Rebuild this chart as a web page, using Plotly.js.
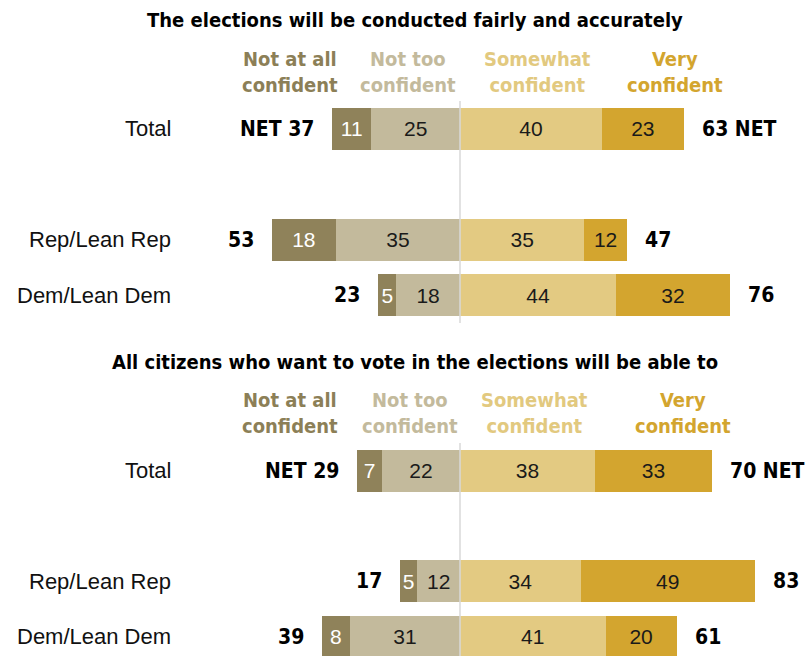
<!DOCTYPE html>
<html>
<head>
<meta charset="utf-8">
<script src="https://cdn.plot.ly/plotly-3.0.1.min.js"></script>
<style>html,body{margin:0;padding:0;background:#fff;}#chart{width:811px;height:656px;}</style>
</head>
<body>
<div id="chart"></div>
<script>
// ---- DATA ----
const rows = ['Total', 'Rep/Lean Rep', 'Dem/Lean Dem'];
const categories = ['Not at all<br>confident', 'Not too<br>confident', 'Somewhat<br>confident', 'Very<br>confident'];
const panelTitles = ['The elections will be conducted fairly and accurately',
                     'All citizens who want to vote in the elections will be able to'];

// Panel 1: conducted fairly and accurately
const fairNotAtAll = [11, 18, 5];
const fairNotToo   = [25, 35, 18];
const fairSomewhat = [40, 35, 44];
const fairVery     = [23, 12, 32];
const fairNetNeg   = [37, 53, 23];
const fairNetPos   = [63, 47, 76];

// Panel 2: all citizens able to vote
const voteNotAtAll = [7, 5, 8];
const voteNotToo   = [22, 12, 31];
const voteSomewhat = [38, 34, 41];
const voteVery     = [33, 49, 20];
const voteNetNeg   = [29, 17, 39];
const voteNetPos   = [70, 83, 61];

// ---- LAYOUT CONSTANTS ----
const W = 811, H = 656;
const CENTER = 460, PXU = 3.55;
const rowY = [0, 2, 3];
const colors = ['#8F825A', '#C3BA9C', '#E3CA82', '#D3A52F'];
const headerColors = ['#8C7F57', '#C3BA9C', '#E2C97F', '#D3A52F'];
const REG = 'Liberation Sans, Arial, sans-serif';
const NARROW = 'Liberation Sans Narrow, Arial Narrow, DejaVu Sans Condensed, sans-serif';
const px = x => x / W;
const py = y => 1 - y / H;

function panelTraces(xa, ya, notAtAll, notToo, somewhat, very) {
  const mk = (vals, sign, i, txtColor) => ({
    type: 'bar', orientation: 'h', xaxis: xa, yaxis: ya,
    x: vals.map(v => sign * v), y: rowY,
    text: vals.map(String), textposition: 'inside', insidetextanchor: 'middle',
    constraintext: 'none', textangle: 0,
    textfont: {family: REG, size: 21, color: txtColor},
    marker: {color: colors[i], line: {width: 0}},
    width: 0.76, hoverinfo: 'skip', showlegend: false
  });
  return [
    mk(notToo, -1, 1, '#1a1a1a'),
    mk(notAtAll, -1, 0, '#ffffff'),
    mk(somewhat, 1, 2, '#1a1a1a'),
    mk(very, 1, 3, '#1a1a1a')
  ];
}

const data = [].concat(
  panelTraces('x', 'y', fairNotAtAll, fairNotToo, fairSomewhat, fairVery),
  panelTraces('x2', 'y2', voteNotAtAll, voteNotToo, voteSomewhat, voteVery)
);

const annotations = [];
function panelAnn(xa, ya, titleY, headY, headX, notAtAll, notToo, somewhat, very, netNeg, netPos, titleIdx) {
  annotations.push({xref: 'paper', yref: 'paper', x: px(415), y: py(titleY), text: '<b>' + panelTitles[titleIdx] + '</b>',
    showarrow: false, xanchor: 'center', yanchor: 'middle', font: {family: NARROW, size: 20, color: '#000'}});
  categories.forEach((c, i) => {
    annotations.push({xref: 'paper', yref: 'paper', x: px(headX[i]), y: py(headY), text: '<b>' + c + '</b>',
      showarrow: false, xanchor: 'center', yanchor: 'middle', align: 'center',
      font: {family: NARROW, size: 20, color: headerColors[i]}});
  });
  rows.forEach((r, i) => {
    annotations.push({xref: 'paper', yref: ya, x: px(173), y: rowY[i], text: r, showarrow: false,
      xanchor: 'right', yanchor: 'middle', font: {family: REG, size: 22, color: '#111'}});
    const left = -(notAtAll[i] + notToo[i]);
    const right = somewhat[i] + very[i];
    const lt = i === 0 ? 'NET ' + netNeg[i] : String(netNeg[i]);
    const rt = i === 0 ? netPos[i] + ' NET' : String(netPos[i]);
    annotations.push({xref: xa, yref: ya, x: left, y: rowY[i], xshift: -16, text: '<b>' + lt + '</b>',
      showarrow: false, xanchor: 'right', yanchor: 'middle', font: {family: NARROW, size: 21, color: '#000'}});
    annotations.push({xref: xa, yref: ya, x: right, y: rowY[i], xshift: 16, text: '<b>' + rt + '</b>',
      showarrow: false, xanchor: 'left', yanchor: 'middle', font: {family: NARROW, size: 21, color: '#000'}});
  });
}
panelAnn('x', 'y', 20, 72, [290, 408, 537, 675],
  fairNotAtAll, fairNotToo, fairSomewhat, fairVery, fairNetNeg, fairNetPos, 0);
panelAnn('x2', 'y2', 362, 413, [290, 410, 534, 683],
  voteNotAtAll, voteNotToo, voteSomewhat, voteVery, voteNetNeg, voteNetPos, 1);

const xr = [-CENTER / PXU, (W - CENTER) / PXU];
const axX = {range: xr, visible: false, fixedrange: true, zeroline: false, showgrid: false};
const layout = {
  width: W, height: H, margin: {l: 0, r: 0, t: 0, b: 0},
  paper_bgcolor: '#fff', plot_bgcolor: 'rgba(0,0,0,0)',
  barmode: 'relative', bargap: 0,
  xaxis: Object.assign({domain: [0, 1], anchor: 'y'}, axX),
  xaxis2: Object.assign({domain: [0, 1], anchor: 'y2'}, axX),
  yaxis: {domain: [py(323), py(101)], range: [3.5, -0.5], visible: false, fixedrange: true, anchor: 'x'},
  yaxis2: {domain: [0, py(443)], range: [3.35, -0.5], visible: false, fixedrange: true, anchor: 'x2'},
  shapes: [
    {type: 'line', xref: 'x', yref: 'y domain', x0: 0, x1: 0, y0: 0, y1: 1, layer: 'above', line: {color: '#D9D9D9', width: 1.5}},
    {type: 'line', xref: 'x2', yref: 'y2 domain', x0: 0, x1: 0, y0: 0, y1: 1, layer: 'above', line: {color: '#D9D9D9', width: 1.5}}
  ],
  annotations: annotations,
  font: {family: REG}
};
Plotly.newPlot('chart', data, layout, {displayModeBar: false, staticPlot: true});
</script>
</body>
</html>
